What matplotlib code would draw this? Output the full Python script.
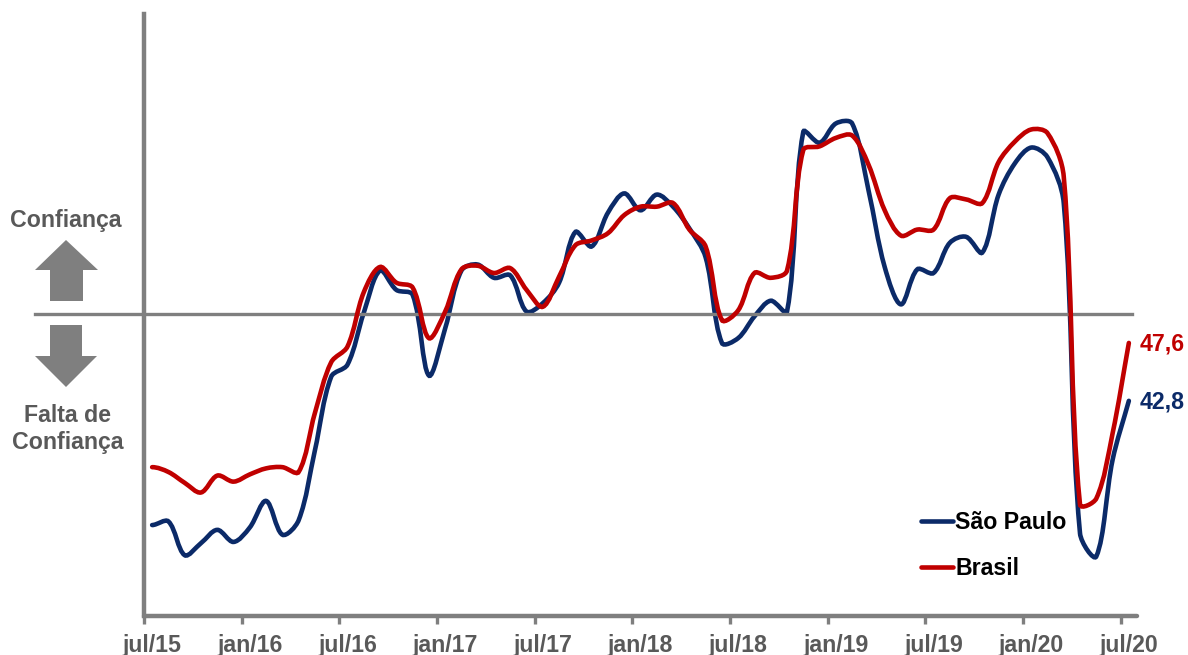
import numpy as np
import matplotlib
matplotlib.use('Agg')
import matplotlib.pyplot as plt
from matplotlib.lines import Line2D
from matplotlib.patches import PathPatch, Polygon
from matplotlib.path import Path

plt.rcParams['font.family'] = ['Liberation Sans', 'DejaVu Sans']
plt.rcParams['font.weight'] = 'bold'

# monthly index, jul/15 to jul/20
sao_paulo = [32.5, 32.8, 30.0, 31.0, 32.1, 31.1, 32.3, 34.5, 31.7, 32.9, 38.7, 44.8,
             45.8, 50.1, 53.6, 52.0, 51.6, 44.9, 48.8, 53.6, 54.1, 53.0, 53.2, 50.2,
             50.9, 52.6, 56.8, 55.6, 58.4, 60.0, 58.6, 59.9, 58.9, 57.1, 54.7, 47.6,
             48.0, 49.8, 51.1, 50.2, 65.1, 64.2, 65.8, 65.8, 60.3, 53.9, 50.8, 53.7,
             53.4, 55.9, 56.4, 55.1, 59.9, 62.5, 63.8, 63.0, 59.2, 31.8, 29.9, 37.9, 42.8]
brasil = [37.3, 36.9, 36.0, 35.2, 36.6, 36.1, 36.7, 37.2, 37.3, 36.9, 41.8, 46.0,
          47.3, 51.8, 53.9, 52.6, 52.2, 48.0, 50.2, 53.7, 54.0, 53.4, 53.8, 52.0,
          50.6, 53.1, 55.7, 56.1, 56.7, 58.2, 58.9, 58.9, 59.2, 57.0, 55.6, 49.5,
          50.3, 53.4, 53.0, 53.6, 63.6, 63.9, 64.6, 64.8, 62.4, 58.6, 56.5, 57.0,
          57.0, 59.6, 59.5, 59.2, 62.6, 64.3, 65.3, 65.0, 61.4, 34.2, 34.7, 40.1, 47.6]
tick_labels = ['jul/15', 'jan/16', 'jul/16', 'jan/17', 'jul/17', 'jan/18',
               'jul/18', 'jan/19', 'jul/19', 'jan/20', 'jul/20']

W, H = 1188, 655
GREY = '#7f7f7f'
TXT = '#595959'
BLUE = '#0b2a68'
RED = '#c00000'
FS = 16.7
LW = 3.3
XPX, YPX = 16.28, 12.06  # pixels per month / per index point


def smooth_path(y):
    # excel style smoothing: handle length follows the length of each segment,
    # so the big jumps do not overshoot
    y = np.asarray(y)
    n = len(y)
    x = np.arange(n, dtype=float)
    seg = np.hypot(XPX, np.diff(y) * YPX)
    out_h = np.zeros((n, 2))
    in_h = np.zeros((n, 2))
    for i in range(1, n - 1):
        t = np.array([2.0, y[i + 1] - y[i - 1]])
        tot = seg[i - 1] + seg[i]
        out_h[i] = t * seg[i] / tot / 3
        in_h[i] = t * seg[i - 1] / tot / 3
    out_h[0] = [1 / 3, 0]
    in_h[-1] = [1 / 3, (y[-1] - y[-2]) / 3]
    verts = [(x[0], y[0])]
    codes = [Path.MOVETO]
    for i in range(n - 1):
        verts.append((x[i] + out_h[i, 0], y[i] + out_h[i, 1]))
        verts.append((x[i + 1] - in_h[i + 1, 0], y[i + 1] - in_h[i + 1, 1]))
        verts.append((x[i + 1], y[i + 1]))
        codes += [Path.CURVE4] * 3
    return Path(verts, codes)


def fx(px):
    return px / W


def fy(py):
    return 1 - py / H


fig = plt.figure(figsize=(W / 100, H / 100), dpi=100)
ax = fig.add_axes([fx(144), fy(615.5), fx(993), 601.5 / H])
ax.set_xlim(-0.5, 60.5)
ax.set_ylim(25, 25 + 601.5 / YPX)

ax.add_patch(PathPatch(smooth_path(sao_paulo), fill=False, ec=BLUE, lw=LW, capstyle='round', zorder=2))
ax.axhline(50, xmin=(35 - 144) / 993, xmax=(1132 - 144) / 993, color=GREY, lw=2.4, clip_on=False, zorder=3)
ax.add_patch(PathPatch(smooth_path(brasil), fill=False, ec=RED, lw=LW, capstyle='round', zorder=4))

for s in ['top', 'right']:
    ax.spines[s].set_visible(False)
ax.spines['left'].set_color(GREY)
ax.spines['left'].set_linewidth(3.2)
ax.spines['bottom'].set_color(GREY)
ax.spines['bottom'].set_linewidth(3.2)
ax.spines['bottom'].set_capstyle('round')

ax.set_yticks([])
idx = np.arange(0, 61, 6)
ax.set_xticks(idx - 0.5)
ax.set_xticklabels([])
ax.tick_params(axis='x', which='major', length=5.5, width=2.4, color=GREY)
ax.set_xticks(idx, minor=True)
ax.set_xticklabels(tick_labels, minor=True, fontsize=FS, color=TXT, fontweight='bold')
ax.tick_params(axis='x', which='minor', length=0, pad=13)

ax.annotate('47,6', (60, brasil[-1]), xytext=(8, -1), textcoords='offset points', color=RED,
            fontsize=FS, fontweight='bold', va='center', ha='left')
ax.annotate('42,8', (60, sao_paulo[-1]), xytext=(8, -1), textcoords='offset points', color=BLUE,
            fontsize=FS, fontweight='bold', va='center', ha='left')

handles = [Line2D([], [], color=BLUE, lw=LW, solid_capstyle='round'),
           Line2D([], [], color=RED, lw=LW, solid_capstyle='round')]
ax.legend(handles, ['São Paulo', 'Brasil'], loc='lower left', frameon=False, fontsize=FS,
          bbox_to_anchor=(fx(921), fy(580)), bbox_transform=fig.transFigure, borderpad=0, borderaxespad=0,
          handlelength=1.4, handletextpad=0.07, labelspacing=1.0)

# side arrows and captions
up = [(66, 240), (98, 270), (83, 270), (83, 301), (50, 301), (50, 270), (35, 270)]
down = [(50, 325), (82, 325), (82, 356), (97, 356), (66, 387), (35, 356), (50, 356)]
for pts in (up, down):
    fig.add_artist(Polygon([(fx(a), fy(b)) for a, b in pts], closed=True, fc=GREY, ec='none',
                           transform=fig.transFigure))
fig.text(fx(66), fy(221), 'Confiança', color=TXT, fontsize=FS, fontweight='bold', ha='center', va='center')
fig.text(fx(68), fy(416), 'Falta de', color=TXT, fontsize=FS, fontweight='bold', ha='center', va='center')
fig.text(fx(68), fy(443), 'Confiança', color=TXT, fontsize=FS, fontweight='bold', ha='center', va='center')

fig.savefig('out.png', dpi=100)
